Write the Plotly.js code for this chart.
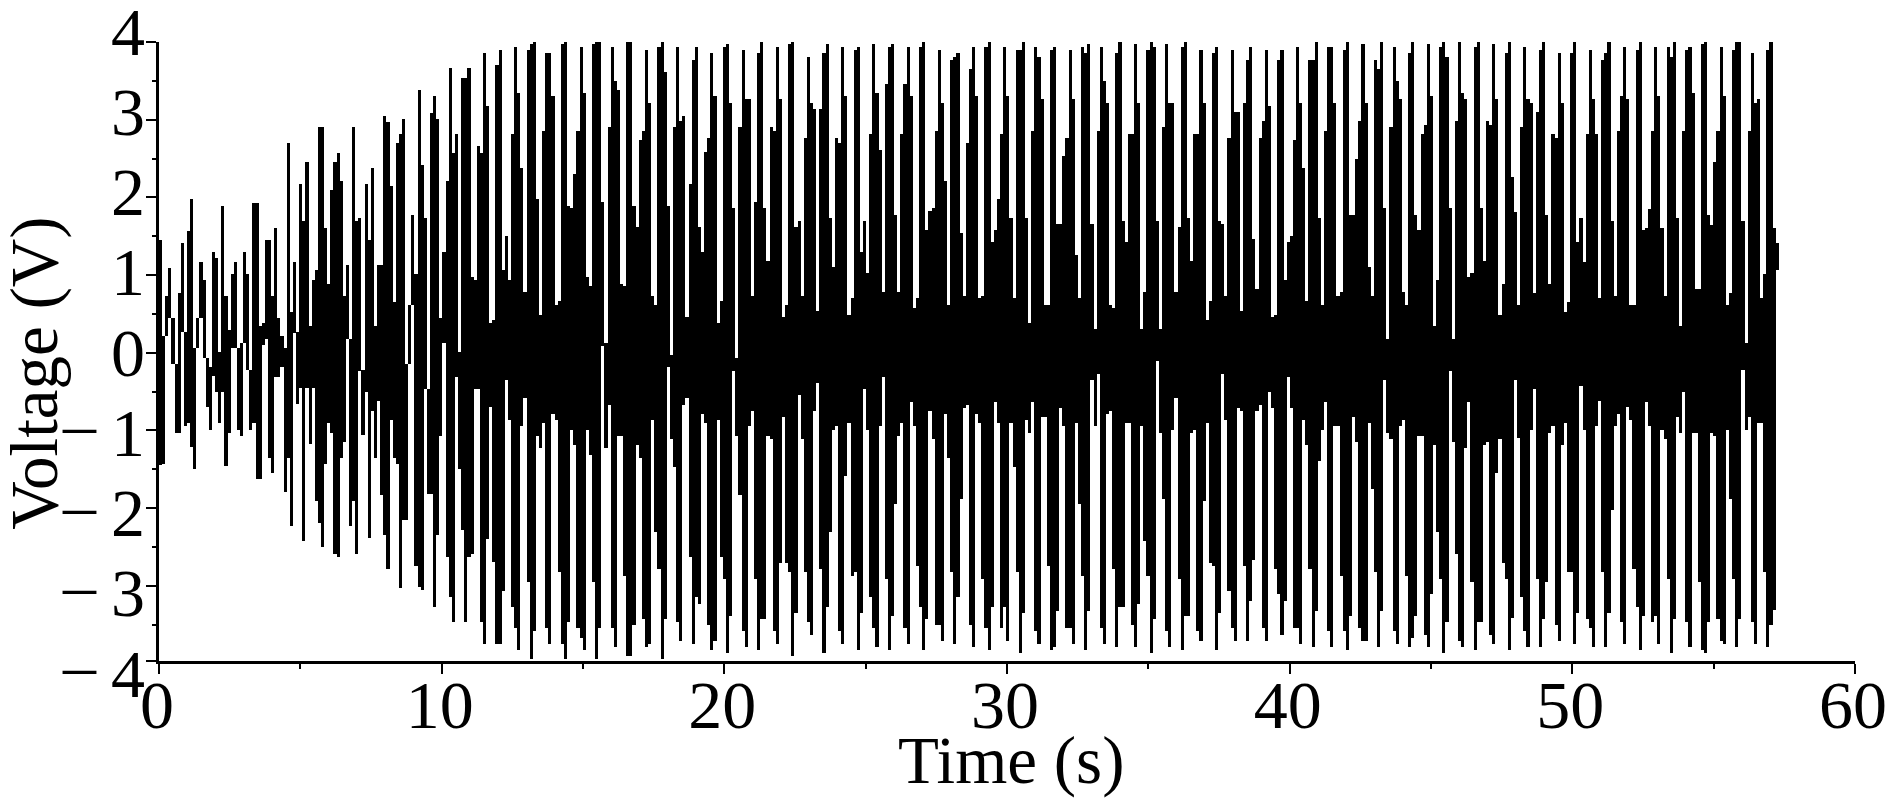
<!DOCTYPE html>
<html>
<head>
<meta charset="utf-8">
<script src="https://cdn.plot.ly/plotly-3.0.1.min.js"></script>
<style>html,body{margin:0;padding:0;background:#fff}#chart{width:1892px;height:801px}</style>
</head>
<body>
<div id="chart"></div>
<script>
var sampleStep = 0.1102;
var voltageHigh = [
1.45,0.22,0.73,1.09,0.45,-0.15,0.77,1.41,0.26,1.57,1.98,0.06,0.45,1.17,0.94,-0.07,-0.18,1.29,1.22,0.01,
1.89,0.73,0.29,1.01,1.17,0.06,0.13,1.29,1.01,-0.22,1.93,1.93,0.34,0.38,1.45,1.45,0.73,1.61,0.45,0.22,
0.06,2.70,0.53,1.17,0.26,2.17,1.69,2.45,0.34,0.94,1.06,2.90,2.90,1.61,0.89,2.10,2.45,2.57,2.21,0.73,
1.13,0.17,2.90,1.69,1.73,-0.22,2.17,1.45,2.38,0.34,1.13,1.13,3.05,2.97,2.14,0.65,2.70,2.81,3.01,-0.15,
0.61,1.77,1.01,3.38,2.42,1.73,-0.47,3.09,3.30,3.01,0.45,1.29,2.21,3.66,2.57,2.81,0.01,3.54,3.54,3.66,
0.98,0.94,2.66,2.57,3.86,3.17,0.38,0.42,3.70,
3.90,1.06,1.50,0.94,2.82,3.93,3.34,2.38,0.78,3.90,3.98,4.0,1.98,0.49,2.86,3.86,3.86,3.30,0.61,0.66,
3.98,4.0,1.89,1.86,2.30,2.86,3.93,3.34,0.98,0.86,3.98,4.0,4.0,1.94,0.13,2.90,3.93,3.50,3.38,0.89,
0.86,4.0,4.0,1.89,1.62,2.74,2.86,3.90,3.21,0.73,0.61,3.93,4.0,3.62,1.89,-0.03,2.90,3.93,2.98,3.05,
0.46,2.17,3.77,3.93,1.62,1.30,2.58,2.77,3.86,3.30,0.38,0.66,3.93,3.98,3.21,1.86,-0.07,2.90,3.90,3.26,
3.26,0.73,1.94,3.86,4.0,1.86,1.18,2.90,2.86,3.93,3.26,0.46,0.61,3.98,4.0,1.62,1.70,0.73,2.77,3.81,
3.21,3.14,0.54,3.14,3.86,3.98,1.73,
1.10,2.77,2.70,3.93,3.30,0.49,0.70,3.90,3.93,1.30,1.70,1.02,2.82,3.98,3.34,2.61,0.78,3.46,3.93,3.98,
1.77,0.78,2.82,3.46,3.93,3.30,0.58,0.70,3.93,4.0,1.58,1.82,1.86,2.86,3.90,3.21,2.21,0.61,3.77,3.81,
3.86,1.54,0.73,2.70,3.65,3.93,3.30,0.70,0.73,3.93,4.0,1.42,1.58,1.98,2.82,3.93,3.30,1.73,0.70,3.90,
3.90,4.0,1.73,0.38,2.86,3.93,3.81,3.26,0.61,0.61,3.90,3.93,1.66,1.66,2.53,2.77,3.90,3.26,1.26,0.70,
3.93,3.86,3.98,1.66,0.30,2.86,3.93,3.50,3.21,0.61,0.58,3.86,4.0,1.70,1.42,2.82,2.82,3.98,3.21,0.30,
0.78,3.90,4.0,3.93,1.70,0.30,2.90,
3.98,3.21,3.21,0.78,1.62,3.93,4.0,1.73,1.18,2.82,2.82,3.90,3.21,0.42,0.66,3.86,3.93,1.70,1.66,0.73,
2.77,3.90,3.10,3.10,0.54,3.21,3.77,3.93,1.46,0.82,2.77,2.98,3.90,3.18,0.46,0.49,3.77,3.90,0.94,1.42,
1.50,2.74,3.93,3.21,2.38,0.66,3.77,3.77,4.0,1.73,0.61,2.86,3.93,3.93,3.21,0.73,0.78,3.90,4.0,1.77,
1.77,2.50,2.98,3.98,3.21,1.10,0.73,3.77,3.65,4.0,1.86,0.17,2.90,3.93,3.50,3.26,0.78,0.61,3.86,4.0,
1.77,1.58,2.82,2.93,3.98,3.30,0.34,0.94,3.93,4.0,3.81,1.86,0.17,2.98,4.0,3.34,3.26,0.98,1.02,3.93,
4.0,1.86,1.18,2.98,2.93,3.98,3.26,0.49,
0.89,3.86,4.0,2.26,1.81,0.62,2.90,3.93,3.26,3.21,0.77,3.10,3.90,4.0,1.77,0.89,2.81,2.77,3.86,3.21,
0.53,0.65,3.86,4.0,1.42,1.73,1.17,2.81,3.90,3.26,2.81,0.70,3.77,3.86,4.0,1.70,0.73,2.86,3.30,3.93,
3.26,0.62,0.62,3.90,4.0,1.58,1.61,1.85,2.86,3.93,3.30,1.61,0.73,3.93,3.81,4.0,1.73,0.34,2.86,3.90,
3.93,3.34,0.82,0.82,3.98,4.0,1.77,1.65,2.45,2.86,3.93,3.30,0.62,0.77,3.90,4.0,4.0,1.70,0.13,2.86,
3.86,3.21,3.26,0.70,1.01,3.90,4.0,1.61,1.41
];
var voltageLow = [
-1.45,-1.43,0.22,0.45,-0.15,-1.03,-1.03,0.26,-0.94,-0.91,-1.22,-1.5,0.06,0.45,-0.07,-0.7,-0.99,-0.3,-0.5,-0.91,
-0.5,-1.46,-1.03,0.06,0.06,-0.99,-1.07,0.13,-0.22,-0.99,-0.91,-1.63,-1.63,0.10,0.17,-1.35,-1.55,-0.31,-0.31,-0.19,
-1.79,-1.35,-2.23,0.25,-0.66,-0.46,-2.43,-0.46,-1.18,-0.46,-1.91,-2.19,-2.5,-1.43,-0.91,-1.03,-2.59,-2.63,-1.35,-1.15,
0.17,-2.23,-1.91,-2.59,-0.23,-1.06,-0.51,-2.38,-0.75,-1.35,-0.62,-1.83,-2.35,-2.79,-0.87,-1.35,-1.43,-3.03,-2.15,-2.15,
-0.15,0.61,-2.75,-3.02,-3.06,-0.47,-1.82,-1.82,-3.27,-2.35,-1.07,0.13,-2.63,-3.14,-3.47,-0.31,-1.5,-2.28,-3.47,-2.63,
-2.59,-0.47,-0.47,-3.47,-3.75,-2.4,-0.7,-2.7,-3.75,
-3.75,-3.07,-0.35,-0.87,-3.27,-3.55,-3.83,-0.95,-0.59,-2.95,-3.95,-3.59,-1.07,-1.23,-0.91,-3.55,-3.75,-0.79,-0.87,-2.83,
-3.75,-3.95,-3.47,-0.99,-1.19,-3.55,-3.67,-3.83,-0.99,-1.32,-2.95,-3.95,-3.55,0.09,-1.23,-0.67,-3.55,-3.79,-1.07,-1.07,
-2.87,-3.91,-3.91,-3.51,-1.19,-1.35,-3.43,-3.79,-3.75,-0.87,-2.31,-2.79,-3.95,-3.43,-0.19,-1.11,-1.47,-3.47,-3.71,-0.67,
-0.59,-2.63,-3.75,-3.15,-3.23,-0.79,-0.91,-3.51,-3.83,-3.71,-0.87,-2.63,-2.91,-3.87,-3.39,-0.23,-1.07,-1.83,-3.59,-3.79,
-0.95,-0.75,-2.91,-3.83,-3.43,-3.43,-1.07,-1.11,-3.59,-3.75,-2.71,-0.83,-2.71,-2.83,-3.91,-3.35,-0.55,-1.11,-2.83,-3.47,
-3.63,-0.75,-0.39,-2.79,-3.87,-3.27,-2.31,
-0.99,-0.95,-3.59,-3.75,-1.59,-0.91,-2.87,-2.83,-3.83,-3.35,-0.47,-0.99,-3.15,-3.55,-3.79,-0.95,-0.31,-2.91,-3.83,-3.39,
-1.95,-1.07,-0.91,-3.55,-3.75,-0.63,-0.95,-2.75,-3.27,-3.83,-3.43,-0.75,-1.11,-3.51,-3.51,-3.71,-0.79,-1.35,-2.83,-3.75,
-3.15,-1.88,-0.71,-0.67,-3.51,-3.79,-0.79,-0.91,-2.91,-3.55,-3.83,-3.27,-0.63,-0.91,-3.55,-3.27,-3.71,-0.91,-1.47,-2.83,
-3.87,-3.35,-0.87,-1.03,-0.63,-3.59,-3.75,-0.83,-0.83,-2.75,-3.83,-3.79,-3.32,-0.71,-0.95,-3.55,-3.55,-3.75,-0.91,-1.95,
-2.87,-3.83,-3.32,-0.35,-0.95,-0.27,-3.55,-3.75,-0.79,-0.75,-2.79,-3.79,-3.27,-3.27,-0.91,-0.91,-3.51,-3.79,-3.23,-0.95,
-2.43,-2.87,-3.87,-3.43,-0.11,-1.03,-1.88,
-3.59,-3.79,-0.99,-0.59,-2.91,-3.83,-3.39,-3.39,-1.03,-0.99,-3.59,-3.71,-1.91,-0.91,-2.71,-2.75,-3.83,-3.35,-0.27,-0.87,
-3.07,-3.55,-3.71,-0.71,-0.75,-2.75,-3.71,-3.20,-2.67,-0.75,-0.67,-3.55,-3.71,-0.51,-0.71,-2.79,-3.11,-3.63,-3.20,-0.31,
-0.71,-3.55,-3.55,-3.75,-0.87,-1.19,-2.79,-3.79,-3.32,-1.39,-0.99,-0.63,-3.59,-3.79,-0.95,-0.95,-2.87,-3.59,-3.83,-3.39,
-0.83,-1.15,-3.55,-3.71,-3.71,-0.91,-1.75,-2.83,-3.79,-3.32,-0.35,-1.03,-1.11,-3.59,-3.75,-0.95,-0.87,-2.87,-3.79,-3.67,
-3.39,-1.07,-1.07,-3.63,-3.79,-3.11,-1.19,-2.31,-2.91,-3.87,-3.47,-0.23,-1.15,-2.59,-3.71,-3.79,-1.23,-0.63,-2.95,-3.83,
-3.47,-3.47,-1.19,-1.15,-3.63,-3.75,-1.55,-1.11,
-2.71,-2.91,-3.83,-3.42,-0.35,-1.10,-3.14,-3.59,-3.79,-0.99,-0.47,-2.91,-3.79,-3.43,-2.95,-1.04,-0.95,-3.51,-3.71,-1.19,
-0.91,-2.83,-2.83,-3.75,-3.35,-0.43,-0.99,-3.43,-3.55,-3.79,-0.95,-0.62,-2.83,-3.79,-3.35,-2.03,-0.95,-0.79,-3.47,-3.75,
-0.70,-0.87,-2.79,-3.27,-3.83,-3.39,-0.63,-0.95,-3.47,-3.39,-3.75,-0.99,-1.11,-2.91,-3.87,-3.43,-0.83,-1.03,-0.51,-3.47,
-3.79,-1.03,-1.03,-2.95,-3.83,-3.87,-3.47,-1.03,-1.07,-3.43,-3.71,-3.75,-0.99,-1.88,-2.91,-3.79,-3.43,-0.22,-0.99,-0.83,
-3.47,-3.75,-0.91,-0.91,-2.83,-3.79,-3.51,-3.31,1.06
];
var timeTicks = [0,10,20,30,40,50,60];
var timeMinorTicks = [5,15,25,35,45,55];
var voltageTicks = [4,3,2,1,0,-1,-2,-3,-3.97];
var voltageMinorTicks = [3.5,2.5,1.5,0.5,-0.5,-1.5,-2.5,-3.5];
var voltageLabels = [4,3,2,1,0,-1,-2,-3,-4];
var axisBottom = -3.97;
var xTitle = "Time (s)";
var yTitle = "Voltage (V)";

var serif = "'Liberation Serif','Times New Roman',serif";
var times = voltageHigh.map(function(_, i){ return (i + 0.5) * sampleStep; });
var spans = voltageHigh.map(function(h, i){ return h - voltageLow[i]; });

var annotations = [];
voltageLabels.forEach(function(v){
  var anchorY = Math.max(v, axisBottom);
  var shift = v * 2.6 + (v - anchorY) * 77.6;
  annotations.push({
    xref:"paper", yref:"y", x:0, y:anchorY, xanchor:"right", yanchor:"middle",
    xshift:-12, yshift:shift, text:String(Math.abs(v)), showarrow:false,
    font:{family:serif,size:68,color:"#000"}
  });
  if (v < 0) annotations.push({
    xref:"paper", yref:"y", x:0, y:anchorY, xanchor:"right", yanchor:"middle",
    xshift:-60, yshift:shift + 8, text:"–", showarrow:false,
    font:{family:serif,size:66,color:"#000"}
  });
});
annotations.push({
  xref:"x", yref:"paper", x:30, y:0, xanchor:"center", yanchor:"middle",
  xshift:4, yshift:-99, text:xTitle, showarrow:false,
  font:{family:serif,size:67,color:"#000"}
});
annotations.push({
  xref:"paper", yref:"y", x:0, y:0, xanchor:"center", yanchor:"middle",
  xshift:-124, yshift:-21, textangle:-90, text:yTitle, showarrow:false,
  font:{family:serif,size:67,color:"#000"}
});

Plotly.newPlot("chart", [{
  type:"bar", x:times, y:spans, base:voltageLow, width:sampleStep,
  marker:{color:"#000", line:{width:0}}, hoverinfo:"skip", showlegend:false
}], {
  width:1892, height:801, paper_bgcolor:"#fff", plot_bgcolor:"#fff",
  margin:{l:159,r:37,t:42,b:140,pad:0},
  showlegend:false,
  bargap:0,
  annotations:annotations,
  xaxis:{
    range:[0,60], tickmode:"array", tickvals:timeTicks, ticktext:timeTicks.map(String),
    ticks:"outside", ticklen:10, tickwidth:2, tickcolor:"#000",
    minor:{tickmode:"array", tickvals:timeMinorTicks, ticks:"outside", ticklen:5, tickwidth:2, tickcolor:"#000", showgrid:false},
    showline:true, linecolor:"#000", linewidth:3, showgrid:false, zeroline:false,
    tickfont:{family:serif,size:68,color:"#000"}, ticklabelstandoff:-28, ticklabelshift:-2,
    automargin:false
  },
  yaxis:{
    range:[axisBottom,4], tickmode:"array", tickvals:voltageTicks, showticklabels:false,
    ticks:"outside", ticklen:10, tickwidth:2, tickcolor:"#000",
    minor:{tickmode:"array", tickvals:voltageMinorTicks, ticks:"outside", ticklen:4, tickwidth:2, tickcolor:"#000", showgrid:false},
    showline:true, linecolor:"#000", linewidth:3, showgrid:false, zeroline:false,
    automargin:false
  }
}, {displayModeBar:false, staticPlot:true});
</script>
</body>
</html>
